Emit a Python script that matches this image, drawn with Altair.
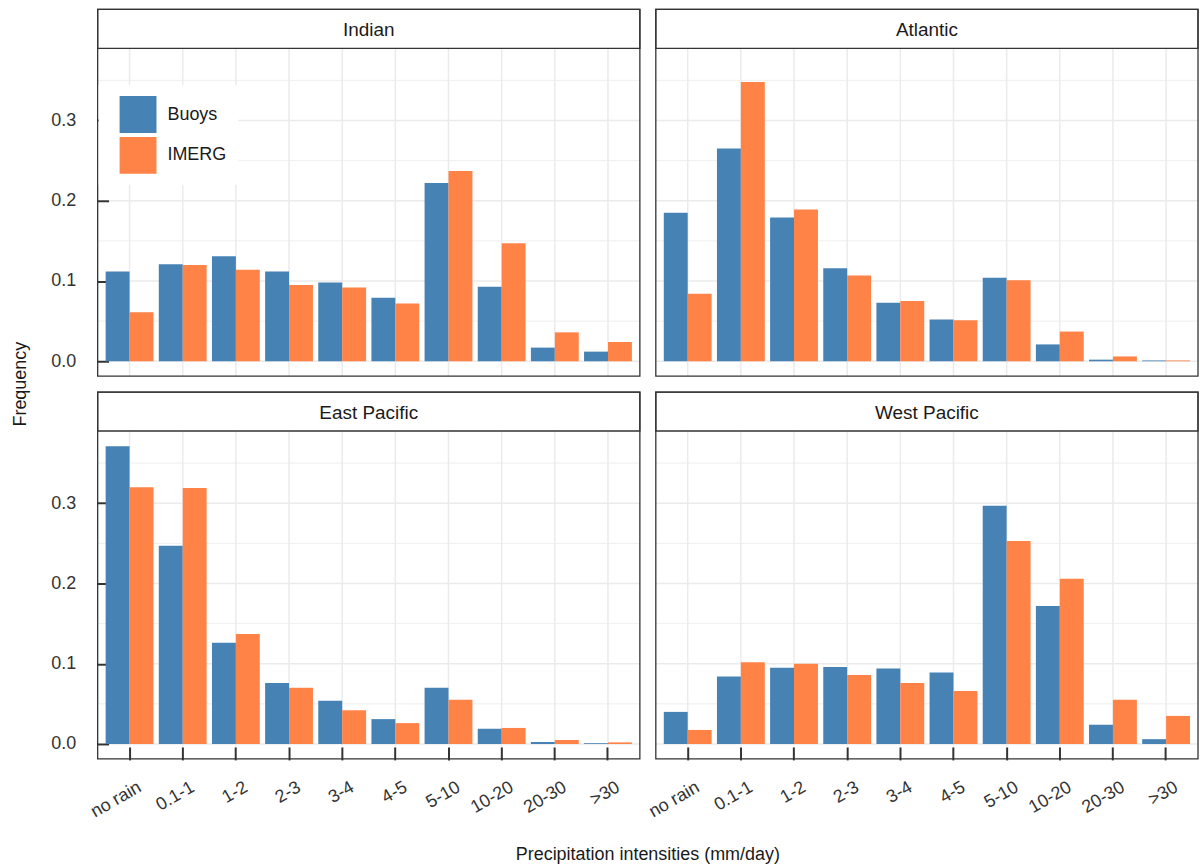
import altair as alt
import pandas as pd

# Rain-rate bins (mm/day) and panel layout
categories = ["no rain", "0.1-1", "1-2", "2-3", "3-4", "4-5", "5-10", "10-20", "20-30", ">30"]
regions = ["Indian", "Atlantic", "East Pacific", "West Pacific"]
panel_row = [0, 0, 1, 1]
panel_col = [0, 1, 0, 1]
sources = ["Buoys", "IMERG"]
colors = ["#4682B4", "#FF8247"]

# Frequency of each intensity bin
indian_buoys = [0.112, 0.121, 0.131, 0.112, 0.098, 0.079, 0.222, 0.093, 0.017, 0.012]
indian_imerg = [0.061, 0.120, 0.114, 0.095, 0.092, 0.072, 0.237, 0.147, 0.036, 0.024]
atlantic_buoys = [0.185, 0.265, 0.179, 0.116, 0.073, 0.052, 0.104, 0.021, 0.002, 0.001]
atlantic_imerg = [0.084, 0.348, 0.189, 0.107, 0.075, 0.051, 0.101, 0.037, 0.006, 0.001]
eastpac_buoys = [0.371, 0.247, 0.126, 0.076, 0.054, 0.031, 0.070, 0.019, 0.0025, 0.001]
eastpac_imerg = [0.320, 0.319, 0.137, 0.070, 0.042, 0.026, 0.055, 0.020, 0.005, 0.002]
westpac_buoys = [0.040, 0.084, 0.095, 0.096, 0.094, 0.089, 0.297, 0.172, 0.024, 0.006]
westpac_imerg = [0.0175, 0.102, 0.100, 0.086, 0.076, 0.066, 0.253, 0.206, 0.055, 0.035]

major_ticks = [0.0, 0.1, 0.2, 0.3]
minor_ticks = [0.05, 0.15, 0.25, 0.35]

series = {
    "Indian": (indian_buoys, indian_imerg),
    "Atlantic": (atlantic_buoys, atlantic_imerg),
    "East Pacific": (eastpac_buoys, eastpac_imerg),
    "West Pacific": (westpac_buoys, westpac_imerg),
}

rows = []
for reg, r, c in zip(regions, panel_row, panel_col):
    for src, vals in zip(sources, series[reg]):
        for cat, v in zip(categories, vals):
            rows.append({"region": reg, "r": r, "c": c, "cat": cat, "source": src, "value": v})
df = pd.DataFrame(rows)

FONT = "Liberation Sans"
W = 544           # panel width
STRIP = 39        # strip height
H = STRIP + 329   # strip + plotting area
XTICK = 13        # inward tick length, x axis
YTICK = 12        # inward tick length, y axis

x_scale = alt.Scale(type="band", paddingInner=0.1, paddingOuter=0.15)
y_scale = alt.Scale(domain=[-0.0186, 0.39], range=[H, STRIP], nice=False, zero=False)

x_axis = alt.Axis(
    title=None, grid=False, domain=False, bandPosition=0.5,
    tickSize=XTICK, offset=-XTICK, tickColor="#333333", tickWidth=2,
    labelAngle=-30, labelAlign="right", labelBaseline="top",
    labelPadding=18, labelOffset=6, labelFontSize=18, labelColor="#333333",
    labelFont=FONT, zindex=1,
)
y_axis = alt.Axis(
    title=None, grid=False, domain=False, values=major_ticks, format=".1f",
    tickSize=YTICK, offset=-YTICK, tickColor="#333333", tickWidth=2,
    labelPadding=21, labelFontSize=18, labelColor="#333333", labelFont=FONT,
    zindex=1,
)

base = alt.Chart()

one_per_panel = "datum.cat == 'no rain' && datum.source == 'Buoys'"


def vgrid(row, bottom_gap):
    # vertical grid at each bin; in the bottom row it stops short of the ticks
    return base.mark_rule(color="#ebebeb", strokeWidth=1.5).encode(
        x=alt.X("cat:N", sort=categories, scale=x_scale, bandPosition=0.5, axis=x_axis),
        y=alt.value(STRIP), y2=alt.value(H - bottom_gap),
    ).transform_filter(f"datum.source == 'Buoys' && datum.r == {row}")


def major(col, left_gap):
    # major horizontal grid; in the left column it stops short of the ticks
    return base.mark_rule(color="#ebebeb", strokeWidth=1.5).encode(
        y=alt.Y("g:Q", scale=y_scale, axis=y_axis),
        x=alt.value(left_gap), x2=alt.value(W),
    ).transform_filter(f"{one_per_panel} && datum.c == {col}").transform_calculate(
        g=str(major_ticks)
    ).transform_flatten(["g"])


# minor horizontal grid
minor = base.mark_rule(color="#ebebeb", strokeWidth=0.8).encode(
    y=alt.Y("g:Q", scale=y_scale, axis=y_axis),
).transform_filter(one_per_panel).transform_calculate(
    g=str(minor_ticks)
).transform_flatten(["g"])

bars = base.mark_bar().encode(
    x=alt.X("cat:N", sort=categories, scale=x_scale, axis=x_axis),
    xOffset=alt.XOffset("source:N", sort=sources,
                        scale=alt.Scale(paddingInner=0, paddingOuter=0)),
    y=alt.Y("value:Q", scale=y_scale, axis=y_axis),
    y2=alt.datum(0),
    color=alt.Color(
        "source:N", sort=sources,
        scale=alt.Scale(domain=sources, range=colors),
        legend=alt.Legend(
            title=None, orient="none", legendX=1, legendY=76,
            symbolType="square", symbolSize=1369, symbolStrokeWidth=0,
            symbolOpacity=1, symbolOffset=10, rowPadding=4, labelOffset=11,
            labelFontSize=18, labelFont=FONT, labelColor="#1a1a1a",
            fillColor="white", padding=11,
        ),
    ),
)

# strip box with the region name, then the panel frame
strip = base.mark_rect(fill="white", stroke="#333333", strokeWidth=1.3).encode(
    x=alt.value(0), x2=alt.value(W), y=alt.value(0), y2=alt.value(STRIP),
).transform_filter(one_per_panel)

strip_text = base.mark_text(font=FONT, fontSize=19, color="#1a1a1a").encode(
    x=alt.value(W / 2), y=alt.value(STRIP / 2 + 1), text="region:N",
).transform_filter(one_per_panel)

frame = base.mark_rect(fillOpacity=0, stroke="#333333", strokeWidth=1.3).encode(
    x=alt.value(0), x2=alt.value(W), y=alt.value(0), y2=alt.value(H),
).transform_filter(one_per_panel)

panel = alt.layer(
    vgrid(0, 0), vgrid(1, XTICK), minor, major(0, YTICK), major(1, 0),
    bars, strip, strip_text, frame, data=df,
).properties(width=W, height=H)

chart = panel.facet(
    row=alt.Row("r:O", title="Frequency", header=alt.Header(
        labelExpr="''", labelPadding=0, titleOrient="left", titleFontSize=18,
        titleFont=FONT, titleFontWeight="normal", titleColor="#1a1a1a",
        titlePadding=0)),
    column=alt.Column("c:O", title="Precipitation intensities (mm/day)", header=alt.Header(
        labelExpr="''", labelPadding=0, labelOrient="bottom", titleOrient="bottom",
        titleFontSize=18, titleFont=FONT, titleFontWeight="normal",
        titleColor="#1a1a1a", titlePadding=4)),
    spacing={"row": 14, "column": 14},
).properties(
    padding={"left": 11, "top": 7, "right": 1, "bottom": 2},
    background="white",
).configure(font=FONT).configure_view(strokeWidth=0)

chart.save("out.html", embed_options={"renderer": "svg", "actions": False})
